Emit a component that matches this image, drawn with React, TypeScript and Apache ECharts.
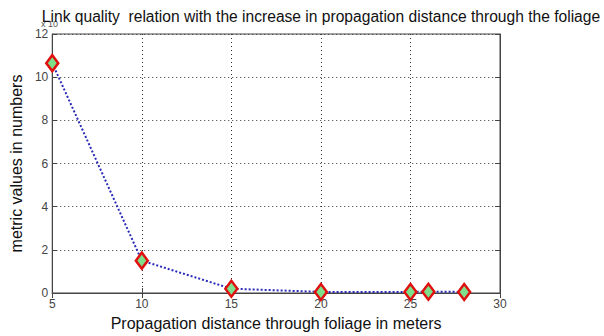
import React, { useEffect, useRef } from "react";
import * as echarts from "echarts";

const distances = [5, 10, 15, 20, 25, 26, 28];
const metricValues = [10.65, 1.5, 0.2, 0.05, 0.05, 0.06, 0.05];
const xTicks = [5, 10, 15, 20, 25, 30];
const yTicks = [0, 2, 4, 6, 8, 10, 12];

const FONT = "Liberation Sans, Arial, sans-serif";

export default function App() {
  const ref = useRef<HTMLDivElement>(null);
  useEffect(() => {
    if (!ref.current) return;
    const chart = echarts.init(ref.current, null, { renderer: "svg" });
    const common = {
      axisTick: { show: true, inside: true, length: 5, lineStyle: { color: "#444" } },
      axisLine: { show: true, lineStyle: { color: "#444", width: 1 } },
    };
    chart.setOption({
      animation: false,
      backgroundColor: "#ffffff",
      title: {
        text: "Link quality  relation with the increase in propagation distance through the foliage",
        left: 316,
        textAlign: "center",
        top: 3,
        textStyle: { fontFamily: FONT, fontSize: 15.6, fontWeight: "normal", color: "#111" },
      },
      grid: { left: 41, right: 104, top: 34, bottom: 42, show: true, borderColor: "#444", borderWidth: 1 },
      graphic: [
        {
          type: "text",
          left: 41,
          top: 19,
          style: { text: "x 10", fontFamily: FONT, fontSize: 9, fill: "#555" },
        },
      ],
      xAxis: [
        {
          type: "value",
          min: xTicks[0],
          max: xTicks[xTicks.length - 1],
          interval: 5,
          name: "Propagation distance through foliage in meters",
          nameLocation: "middle",
          nameGap: 22,
          nameTextStyle: { fontFamily: FONT, fontSize: 16, color: "#111" },
          axisLabel: { fontFamily: FONT, fontSize: 12, color: "#444", margin: 5 },
          splitLine: { show: true, lineStyle: { type: [1, 3], color: "#333", width: 1 } },
          ...common,
        },
        {
          type: "value",
          position: "top",
          min: xTicks[0],
          max: xTicks[xTicks.length - 1],
          interval: 5,
          axisLabel: { show: false },
          splitLine: { show: false },
          ...common,
        },
      ],
      yAxis: [
        {
          type: "value",
          min: yTicks[0],
          max: yTicks[yTicks.length - 1],
          interval: 2,
          name: "metric values in numbers",
          nameLocation: "middle",
          nameGap: 20,
          nameTextStyle: { fontFamily: FONT, fontSize: 16, color: "#111" },
          axisLabel: { fontFamily: FONT, fontSize: 12, color: "#444", margin: 4 },
          splitLine: { show: true, lineStyle: { type: [1, 3], color: "#333", width: 1 } },
          ...common,
        },
        {
          type: "value",
          position: "right",
          min: yTicks[0],
          max: yTicks[yTicks.length - 1],
          interval: 2,
          axisLabel: { show: false },
          splitLine: { show: false },
          ...common,
        },
      ],
      series: [
        {
          type: "line",
          data: distances.map((d, i) => [d, metricValues[i]]),
          symbol: "diamond",
          symbolSize: [12, 16],
          lineStyle: { color: "#2a2ab8", width: 2, type: [2, 2] },
          itemStyle: { color: "#7ee08a", borderColor: "#e01010", borderWidth: 2.5 },
          clip: false,
          z: 5,
        },
      ],
    });
    return () => chart.dispose();
  }, []);
  return <div ref={ref} style={{ width: 604, height: 336, position: "absolute", left: 0, top: 0 }} />;
}
